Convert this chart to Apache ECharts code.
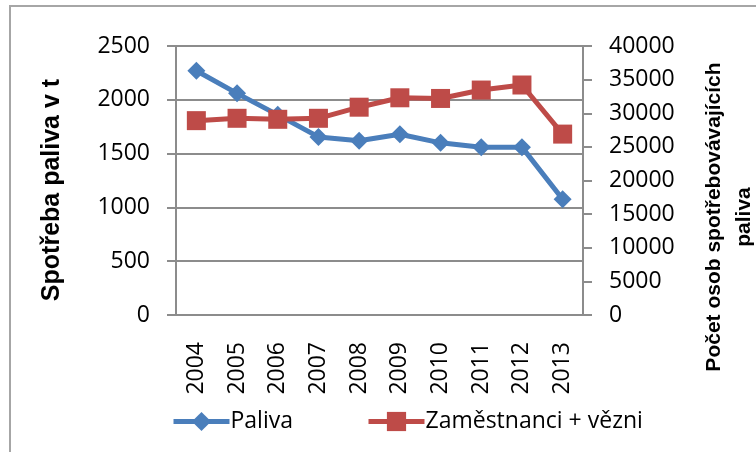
<!DOCTYPE html>
<html>
<head>
<meta charset="utf-8">
<script src="https://cdn.jsdelivr.net/npm/echarts@6/dist/echarts.min.js"></script>
<style>
  html, body { margin: 0; padding: 0; background: #fff; }
  #chart { width: 756px; height: 452px; }
</style>
</head>
<body>
<div id="chart"></div>
<script>
const years = ['2004', '2005', '2006', '2007', '2008', '2009', '2010', '2011', '2012', '2013']
const paliva = [2270, 2060, 1860, 1655, 1620, 1680, 1600, 1560, 1560, 1075]
const osoby = [28900, 29250, 29100, 29250, 30900, 32300, 32200, 33450, 34200, 26900]

const leftTitle = 'Spotřeba paliva v t'
const rightTitle = 'Počet osob spotřebovávajících\npaliva'

const blue = '#4A7EBB'
const red = '#BE4B48'
const gray = '#8c8c8c'
const font = 'Open Sans'

const chart = echarts.init(document.getElementById('chart'))

function plain(v) {
  return String(v)
}

chart.setOption({
  animation: false,
  backgroundColor: '#fff',
  textStyle: { fontFamily: font },
  grid: { left: 176, right: 173, top: 46, bottom: 137 },
  legend: {
    left: 166,
    top: 405,
    itemWidth: 56,
    itemHeight: 24,
    itemGap: 73,
    textStyle: { fontFamily: font, fontSize: 23, color: '#000', padding: [0, 0, 0, -4] },
    data: [
      { name: 'Paliva', lineStyle: { width: 5 } },
      { name: 'Zaměstnanci + vězni', lineStyle: { width: 5 } },
    ],
  },
  xAxis: {
    type: 'category',
    data: years,
    boundaryGap: true,
    axisLine: { lineStyle: { color: gray, width: 2 } },
    axisTick: { show: false },
    axisLabel: { rotate: 90, margin: 27, fontSize: 23, color: '#000', fontFamily: font },
  },
  yAxis: [
    {
      type: 'value',
      min: 0,
      max: 2500,
      interval: 500,
      axisLine: { show: true, lineStyle: { color: gray, width: 2 } },
      axisTick: { show: true, length: 9, lineStyle: { color: gray, width: 2 } },
      axisLabel: { margin: 26, fontSize: 23, color: '#000', fontFamily: font, formatter: plain },
      splitLine: { lineStyle: { color: gray, width: 2 } },
    },
    {
      type: 'value',
      position: 'right',
      min: 0,
      max: 40000,
      interval: 5000,
      axisLine: { show: true, lineStyle: { color: gray, width: 2 } },
      axisTick: { show: true, length: 9, lineStyle: { color: gray, width: 2 } },
      axisLabel: { margin: 26, fontSize: 23, color: '#000', fontFamily: font, formatter: plain },
      splitLine: { show: false },
    },
  ],
  series: [
    {
      name: 'Paliva',
      type: 'line',
      yAxisIndex: 0,
      data: paliva,
      symbol: 'diamond',
      symbolSize: 18,
      lineStyle: { color: blue, width: 5 },
      itemStyle: { color: blue },
      z: 3,
    },
    {
      name: 'Zaměstnanci + vězni',
      type: 'line',
      yAxisIndex: 1,
      data: osoby,
      symbol: 'rect',
      symbolSize: 19,
      lineStyle: { color: red, width: 5 },
      itemStyle: { color: red },
      z: 4,
    },
  ],
  graphic: [
    {
      type: 'rect',
      shape: { x: 10, y: 6, width: 780, height: 480 },
      style: { fill: 'none', stroke: '#a6a6a6', lineWidth: 2 },
      silent: true,
    },
    {
      type: 'text',
      x: 52,
      y: 190,
      rotation: Math.PI / 2,
      style: {
        text: leftTitle,
        font: 'bold 25px "Liberation Sans", Arial, sans-serif',
        fill: '#000',
        align: 'center',
        verticalAlign: 'middle',
      },
    },
    {
      type: 'text',
      x: 729,
      y: 217,
      rotation: Math.PI / 2,
      style: {
        text: rightTitle,
        font: 'bold 21px "Liberation Sans", Arial, sans-serif',
        lineHeight: 30,
        fill: '#000',
        align: 'center',
        verticalAlign: 'middle',
      },
    },
  ],
})
</script>
</body>
</html>
